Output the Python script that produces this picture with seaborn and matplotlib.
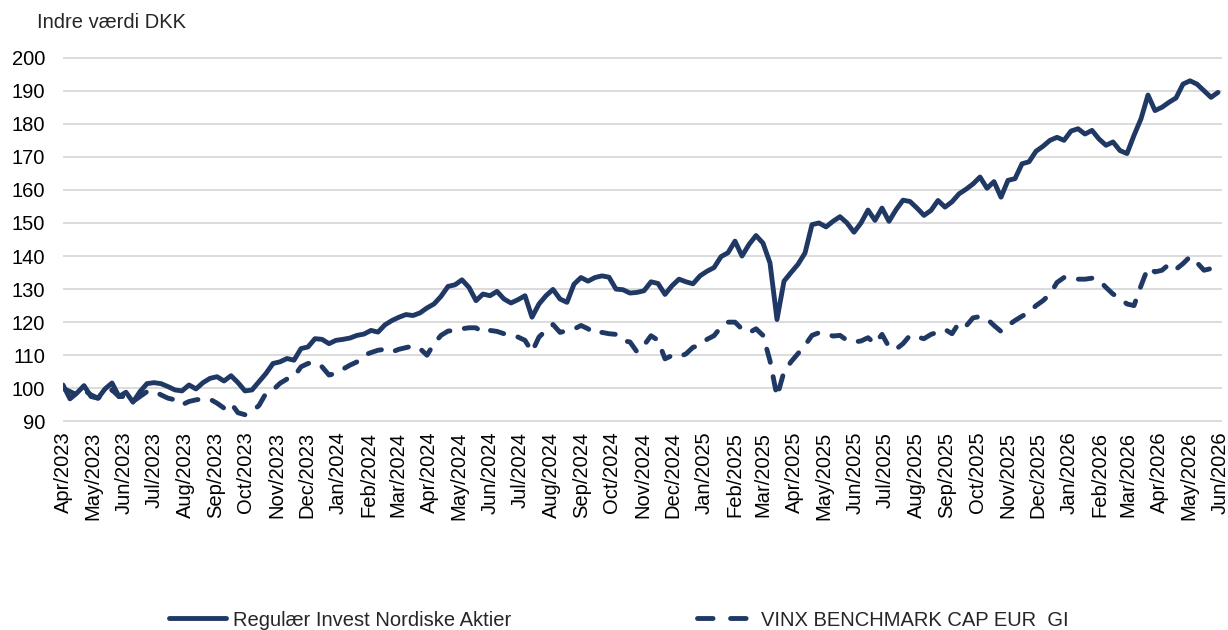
import pandas as pd
import matplotlib.pyplot as plt
import matplotlib.dates as mdates
import seaborn as sns

# ── Data (weekly readings, index = 100 at start) ─────────────────────────────
START = '2023-04-01'
FUND_NAME = 'Regulær Invest Nordiske Aktier'
BENCH_NAME = 'VINX BENCHMARK CAP EUR  GI'

fund = [
    101.0, 96.8, 98.6, 100.8, 97.5, 97.0, 99.8, 101.6, 97.5, 98.8,
    95.8, 99.0, 101.4, 101.7, 101.4, 100.5, 99.5, 99.2, 101.0, 99.8,
    101.7, 103.0, 103.5, 102.2, 103.8, 101.7, 99.2, 99.5, 102.0, 104.5,
    107.5, 108.0, 109.0, 108.5, 112.0, 112.5, 115.0, 114.8, 113.5, 114.5,
    114.8, 115.2, 116.0, 116.4, 117.5, 117.0, 119.2, 120.5, 121.5, 122.3,
    122.0, 122.8, 124.3, 125.5, 127.8, 130.8, 131.3, 132.8, 130.5, 126.5,
    128.5, 128.0, 129.3, 127.0, 125.8, 126.8, 128.0, 121.5, 125.5, 128.0,
    129.9, 127.0, 126.0, 131.5, 133.5, 132.4, 133.5, 134.0, 133.6, 130.0,
    129.8, 128.8, 129.0, 129.5, 132.2, 131.7, 128.4, 131.0, 133.0, 132.2,
    131.6, 134.0, 135.4, 136.5, 139.8, 141.0, 144.5, 140.0, 143.5, 146.2,
    143.9, 137.9, 120.8, 132.4, 135.0, 137.5, 140.9, 149.5, 150.0, 148.8,
    150.5, 151.9, 150.0, 147.2, 150.0, 153.9, 150.8, 154.5, 150.5, 154.0,
    156.9, 156.5, 154.5, 152.3, 153.8, 156.8, 154.8, 156.4, 158.8, 160.2,
    161.8, 163.9, 160.5, 162.5, 157.8, 162.9, 163.4, 167.9, 168.5, 171.7,
    173.2, 175.0, 175.9, 175.0, 177.8, 178.5, 176.9, 178.0, 175.4, 173.5,
    174.5, 171.9, 171.0, 176.5, 181.5, 188.7, 184.0, 185.0, 186.5, 187.8,
    192.0, 193.0, 192.0, 190.0, 188.0, 189.5,
]

bench = [
    100.0, 99.0, 98.0, 99.5, 98.0, 97.0, 98.5, 99.5, 97.5, 97.5,
    96.0, 97.5, 99.0, 99.2, 98.0, 97.0, 96.5, 95.0, 96.0, 96.5,
    96.8, 96.7, 95.5, 94.0, 95.5, 92.6, 92.0, 93.0, 94.8, 98.5,
    99.5, 101.5, 102.8, 103.5, 106.5, 107.5, 107.8, 106.5, 104.0, 104.5,
    105.8, 107.0, 108.0, 110.0, 110.8, 111.5, 111.8, 111.0, 111.8, 112.3,
    112.8, 112.0, 110.0, 113.5, 116.0, 117.3, 117.5, 118.0, 118.3, 118.3,
    116.8, 117.5, 117.2, 116.5, 116.0, 115.5, 114.5, 111.0, 115.5, 117.5,
    119.3, 116.9, 117.4, 117.9, 119.0, 118.0, 116.5, 116.9, 116.5, 116.3,
    114.4, 114.0, 111.0, 113.0, 115.9, 114.5, 108.9, 109.9, 109.5, 110.4,
    112.4, 113.0, 114.8, 115.9, 118.5, 120.0, 120.0, 117.9, 116.8, 118.0,
    116.0, 108.3, 97.5, 105.0, 108.0, 110.5, 113.0, 116.0, 116.8, 116.5,
    115.8, 116.0, 114.5, 114.0, 114.3, 115.3, 113.5, 116.3, 112.5, 111.8,
    113.5, 116.0, 115.5, 115.0, 116.3, 117.0, 117.8, 116.5, 119.8, 118.8,
    121.3, 121.7, 121.0, 119.0, 117.2, 119.0, 120.5, 121.8, 123.0, 125.0,
    126.5, 128.5, 132.0, 133.5, 133.5, 133.0, 133.0, 133.3, 132.7, 130.5,
    128.5, 127.2, 125.5, 125.0, 131.0, 136.5, 135.2, 135.7, 137.5, 136.0,
    137.7, 139.8, 138.0, 135.7, 136.2, 136.0,
]

y_ticks = list(range(90, 201, 10))

dates = pd.date_range(START, periods=len(fund), freq='7D')
df = pd.DataFrame({'date': dates, 'fund': fund, 'bench': bench})

# ── Style ────────────────────────────────────────────────────────────────────
sns.set_theme(style='white')
plt.rcParams['font.family'] = ['Liberation Sans', 'DejaVu Sans']

NAVY = '#1f3864'
GRID = '#d9d9d9'
FS = 14.5
LW = 3.5

fig = plt.figure(figsize=(12.28, 6.3), dpi=100)
ax = fig.add_axes([63 / 1228, 1 - 422 / 630, 1159 / 1228, 365 / 630])

sns.lineplot(data=df, x='date', y='fund', ax=ax, color=NAVY, lw=LW,
             solid_capstyle='round', solid_joinstyle='round', label=FUND_NAME)
sns.lineplot(data=df, x='date', y='bench', ax=ax, color=NAVY, lw=LW,
             linestyle=(0, (2.8, 3.0)), dash_capstyle='round',
             dash_joinstyle='round', label=BENCH_NAME)

ax.set_ylim(89.8, 200.2)
ax.set_yticks(y_ticks)
ax.set_xlim(pd.Timestamp('2023-04-01'), pd.Timestamp('2026-06-03'))
ax.xaxis.set_major_locator(mdates.MonthLocator())
ax.xaxis.set_major_formatter(mdates.DateFormatter('%b/%Y'))
ax.set_xlabel('')
ax.set_ylabel('')

ax.grid(axis='y', color=GRID, lw=1.3)
ax.grid(axis='x', visible=False)
ax.set_axisbelow(True)
for s in ax.spines.values():
    s.set_visible(False)

ax.tick_params(axis='y', length=0, pad=13, labelsize=FS, labelcolor='black')
ax.tick_params(axis='x', length=0, pad=7, labelsize=FS, labelcolor='black',
               labelrotation=90)

fig.text(37 / 1228, 1 - 22 / 630, 'Indre værdi DKK', fontsize=FS,
         ha='left', va='center')

leg = ax.legend(loc='center', bbox_to_anchor=(619 / 1228, 1 - 620 / 630),
                bbox_transform=fig.transFigure, ncol=2, frameon=False,
                fontsize=FS, handlelength=2.85, handletextpad=0.35,
                columnspacing=9.2, borderpad=0)
# two clean dashes in the legend key, like the original
leg.get_lines()[1].set_dashes((3.2, 3.6))

fig.savefig('out.png', dpi=100)
